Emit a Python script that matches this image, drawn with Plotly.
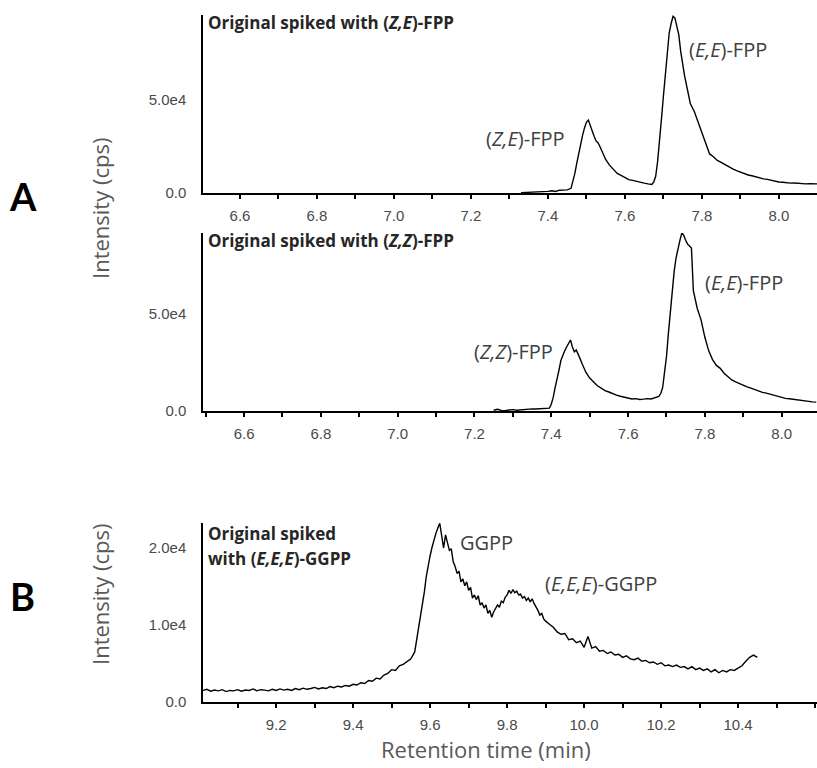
import plotly.graph_objects as go

W, H = 817, 768

# ---------------- data ----------------
# Panel A1: original spiked with (Z,E)-FPP
a1_time = [7.33, 7.34, 7.35, 7.36, 7.37, 7.38, 7.39, 7.40, 7.41, 7.42, 7.43, 7.44, 7.45,
           7.46, 7.465, 7.47, 7.475, 7.48, 7.485, 7.49, 7.495, 7.50, 7.505, 7.51, 7.515,
           7.52, 7.525, 7.53, 7.535, 7.54, 7.55, 7.56, 7.57, 7.58, 7.59, 7.60, 7.61, 7.62,
           7.63, 7.64, 7.65, 7.66, 7.67, 7.675, 7.68, 7.685, 7.69, 7.695, 7.70, 7.705,
           7.71, 7.715, 7.72, 7.725, 7.73, 7.735, 7.74, 7.745, 7.75, 7.755, 7.76, 7.765,
           7.77, 7.78, 7.79, 7.80, 7.81, 7.82, 7.83, 7.84, 7.85, 7.86, 7.87, 7.88, 7.89,
           7.90, 7.91, 7.92, 7.93, 7.94, 7.95, 7.96, 7.97, 7.98, 7.99, 8.00, 8.01, 8.02,
           8.03, 8.04, 8.05, 8.06, 8.07, 8.08, 8.09, 8.10]
a1_int = [200, 300, 250, 500, 400, 700, 500, 900, 1200, 800, 1500, 1400, 1700,
          2500, 6000, 10500, 16000, 21500, 27000, 31000, 35000, 38000, 39200, 36000, 33500,
          30500, 28000, 27000, 25000, 22500, 18000, 15000, 12500, 10500, 9500, 8200, 7200, 6800,
          6200, 5600, 5300, 4900, 4600, 6000, 9000, 17000, 27000, 40000, 52000, 64000,
          75000, 86000, 91000, 95000, 94000, 90000, 85000, 76000, 68000, 63000, 58000, 52000,
          48000, 44000, 38000, 33000, 27000, 21000, 19500, 17500, 16500, 15200, 14000, 13000, 12000,
          11200, 10500, 9700, 9300, 8600, 8200, 7600, 7300, 6800, 6300, 5900, 5800, 5500,
          5300, 5400, 5100, 5200, 4900, 5000, 4800, 4900]

# Panel A2: original spiked with (Z,Z)-FPP
a2_time = [7.25, 7.26, 7.27, 7.28, 7.29, 7.30, 7.31, 7.32, 7.33, 7.34, 7.35, 7.36, 7.37,
           7.38, 7.39, 7.395, 7.40, 7.405, 7.41, 7.415, 7.42, 7.425, 7.43, 7.435, 7.44,
           7.445, 7.45, 7.455, 7.46, 7.465, 7.47, 7.475, 7.48, 7.49, 7.50, 7.51, 7.52,
           7.53, 7.54, 7.55, 7.56, 7.57, 7.58, 7.59, 7.60, 7.61, 7.62, 7.63, 7.64, 7.65,
           7.66, 7.67, 7.68, 7.685, 7.69, 7.695, 7.70, 7.705, 7.71, 7.715, 7.72, 7.725,
           7.73, 7.735, 7.74, 7.745, 7.75, 7.755, 7.76, 7.765, 7.77, 7.775, 7.78, 7.79,
           7.80, 7.81, 7.82, 7.83, 7.84, 7.85, 7.86, 7.87, 7.88, 7.89, 7.90, 7.91, 7.92,
           7.93, 7.94, 7.95, 7.96, 7.97, 7.98, 7.99, 8.00, 8.01, 8.02, 8.03, 8.04, 8.05,
           8.06, 8.07, 8.08, 8.09]
a2_int = [400, 900, 300, 200, 500, 700, 400, 600, 900, 1000, 1100, 1000, 1100,
          1000, 1100, 1500, 3500, 7000, 12000, 16000, 21000, 26000, 29000, 31000, 33000,
          34500, 36600, 33000, 30500, 31500, 29500, 27000, 24500, 20000, 17000, 14800, 13000,
          11800, 10500, 9800, 8800, 8200, 7600, 7200, 6600, 6200, 6400, 5900, 6100, 6400,
          6200, 6800, 7500, 9000, 12000, 20000, 28000, 40000, 52000, 64000, 72000, 79000,
          84000, 88000, 91800, 90500, 88000, 86000, 85000, 84000, 62000, 57000, 53000, 47000,
          38000, 31000, 26500, 23500, 22000, 19500, 17500, 16000, 15000, 14000, 13200, 12400, 11800,
          11000, 10200, 9600, 9200, 8700, 8000, 7400, 6900, 6500, 6300, 6000, 5800, 5400,
          5200, 5000, 4700, 4600]

# Panel B: original spiked with (E,E,E)-GGPP
b_time = [9.01, 9.02, 9.03, 9.04, 9.05, 9.06, 9.07, 9.08, 9.09, 9.10, 9.11, 9.12, 9.13,
          9.14, 9.15, 9.16, 9.17, 9.18, 9.19, 9.20, 9.21, 9.22, 9.23, 9.24, 9.25, 9.26,
          9.27, 9.28, 9.29, 9.30, 9.31, 9.32, 9.33, 9.34, 9.35, 9.36, 9.37, 9.38, 9.39,
          9.40, 9.41, 9.42, 9.43, 9.44, 9.45, 9.46, 9.47, 9.48, 9.49, 9.50, 9.51, 9.52,
          9.53, 9.54, 9.55, 9.56, 9.565, 9.57, 9.575, 9.58, 9.585, 9.59, 9.595, 9.60,
          9.605, 9.61, 9.615, 9.62, 9.625, 9.63, 9.635, 9.64, 9.645, 9.65, 9.655, 9.66,
          9.665, 9.67, 9.675, 9.68, 9.685, 9.69, 9.695, 9.70, 9.705, 9.71, 9.715, 9.72,
          9.725, 9.73, 9.735, 9.74, 9.745, 9.75, 9.755, 9.76, 9.765, 9.77, 9.775, 9.78,
          9.785, 9.79, 9.795, 9.80, 9.805, 9.81, 9.815, 9.82, 9.825, 9.83, 9.835, 9.84,
          9.845, 9.85, 9.855, 9.86, 9.865, 9.87, 9.875, 9.88, 9.885, 9.89, 9.895, 9.90,
          9.91, 9.92,
          9.93, 9.94, 9.95, 9.96, 9.97, 9.98, 9.99, 10.00, 10.01, 10.02, 10.03, 10.04,
          10.05, 10.06, 10.07, 10.08, 10.09, 10.10, 10.11, 10.12, 10.13, 10.14, 10.15,
          10.16, 10.17, 10.18, 10.19, 10.20, 10.21, 10.22, 10.23, 10.24, 10.25, 10.26,
          10.27, 10.28, 10.29, 10.30, 10.31, 10.32, 10.33, 10.34, 10.35, 10.36, 10.37,
          10.38, 10.39, 10.40, 10.41, 10.42, 10.43, 10.44, 10.45]
b_int = [1500, 1650, 1400, 1550, 1450, 1600, 1350, 1500, 1450, 1600, 1400, 1550, 1500,
         1700, 1450, 1600, 1550, 1450, 1650, 1500, 1700, 1550, 1650, 1500, 1750, 1600,
         1800, 1650, 1750, 1900, 1700, 1850, 1750, 2000, 1850, 2050, 1950, 2150, 2050,
         2300, 2200, 2500, 2400, 2800, 2700, 3100, 3000, 3500, 3700, 4200, 4100, 4700,
         4900, 5300, 5600, 6500, 8000, 9300, 10800, 12300, 14300, 16300, 17800, 19000,
         20100, 21200, 21900, 22600, 23200, 21600, 20000, 21700, 20500, 19700, 19900, 18200,
         17600, 16700, 17000, 15600, 16000, 15100, 15600, 14500, 14900, 13500, 13900, 13300,
         13800, 12600, 12900, 12200, 12600, 11500, 11900, 11000, 11700, 12100, 12600, 12300,
         13100, 12900, 13600, 13900, 14500, 14100, 14600, 14200, 14400, 13900, 14000, 13500,
         13700, 13200, 13500, 13000, 13400, 12800, 12400, 11900, 11300, 11500, 10800, 10500,
         10100, 9700,
         9100, 8800, 8900, 8100, 8200, 7700, 7900, 7100, 8500, 7000, 7200, 6600,
         6700, 6300, 6500, 6100, 6200, 5800, 6000, 5600, 5500, 5700, 5300,
         5400, 5100, 5200, 4900, 5100, 4700, 4800, 4600, 4800, 4500, 4600,
         4300, 4600, 4200, 4400, 4100, 4300, 3900, 4200, 3800, 4100, 3900,
         4200, 4100, 4400, 4700, 5300, 5800, 6100, 5800]

a_xticks = [6.6, 6.8, 7.0, 7.2, 7.4, 7.6, 7.8, 8.0]
a_yticks = [0, 50000]
a_ytext = ["0.0", "5.0e4"]
b_xticks = [9.2, 9.4, 9.6, 9.8, 10.0, 10.2, 10.4]
b_yticks = [0, 10000, 20000]
b_ytext = ["0.0", "1.0e4", "2.0e4"]

# ---------------- figure ----------------
def px(x):
    return x / W

def py(y):
    return 1 - y / H

TICKFONT = dict(family="Liberation Sans, Arial, sans-serif", size=15, color="#4a4a4a")
LBL = "Open Sans, sans-serif"

fig = go.Figure()
line = dict(color="black", width=1.4)
fig.add_trace(go.Scatter(x=a1_time, y=a1_int, mode="lines", line=line, xaxis="x", yaxis="y", showlegend=False))
fig.add_trace(go.Scatter(x=a2_time, y=a2_int, mode="lines", line=line, xaxis="x2", yaxis="y2", showlegend=False))
fig.add_trace(go.Scatter(x=b_time, y=b_int, mode="lines", line=line, xaxis="x3", yaxis="y3", showlegend=False))

def xax(rng, tickvals, anchor, tick0):
    return dict(range=rng, domain=[px(203), 1], anchor=anchor, tickvals=tickvals,
                ticktext=[f"{v:.1f}" for v in tickvals],
                ticks="outside", ticklen=4, tickwidth=1.5, tickcolor="black",
                minor=dict(dtick=0.1, tick0=tick0, ticks="outside", ticklen=4, tickwidth=1.5, tickcolor="black"),
                showline=True, linecolor="black", linewidth=1.5, showgrid=False, zeroline=False,
                tickfont=TICKFONT, ticklabelstandoff=4, fixedrange=True, automargin=False)

def yax(rng, dom, tickvals, ticktext, anchor):
    return dict(range=rng, domain=dom, anchor=anchor, tickvals=tickvals, ticktext=ticktext,
                ticks="", showline=True, linecolor="black", linewidth=1.5, showgrid=False,
                zeroline=False, tickfont=TICKFONT, ticklabelstandoff=12, fixedrange=True,
                automargin=False)

fig.update_layout(
    width=W, height=H, margin=dict(l=0, r=0, t=0, b=0, autoexpand=False),
    paper_bgcolor="white", plot_bgcolor="white",
    xaxis=xax([6.504, 8.099], a_xticks, "y", 6.5),
    yaxis=yax([0, 95700], [py(193), py(15)], a_yticks, a_ytext, "x"),
    xaxis2=xax([6.493, 8.092], a_xticks, "y2", 6.5),
    yaxis2=yax([0, 91760], [py(411), py(233)], a_yticks, a_ytext, "x2"),
    xaxis3=xax([9.010, 10.605], b_xticks, "y3", 9.0),
    yaxis3=yax([0, 23250], [py(702), py(523)], b_yticks, b_ytext, "x3"),
)

def ann(text, x, y, size, color="#404040", xanchor="center", textangle=0, family=LBL):
    fig.add_annotation(text=text, x=px(x), y=py(y), xref="paper", yref="paper",
                       xanchor=xanchor, yanchor="middle", showarrow=False, textangle=textangle,
                       font=dict(family=family, size=size, color=color))

TITLE_C = "#262626"
ann("<b>Original spiked with (<i>Z,E</i>)-FPP</b>", 206, 22, 17, TITLE_C, "left")
ann("<b>Original spiked with (<i>Z,Z</i>)-FPP</b>", 206, 240, 17, TITLE_C, "left")
ann("<b>Original spiked</b>", 206, 533, 17, TITLE_C, "left")
ann("<b>with (<i>E,E,E</i>)-GGPP</b>", 206, 558, 17, TITLE_C, "left")

ann("(<i>Z,E</i>)-FPP", 525, 138, 20)
ann("(<i>E,E</i>)-FPP", 728, 50, 20)
ann("(<i>Z,Z</i>)-FPP", 513, 352, 20)
ann("(<i>E,E</i>)-FPP", 744, 282, 20)
ann("GGPP", 486, 542, 20)
ann("(<i>E,E,E</i>)-GGPP", 601, 583, 20)

ann("<b>A</b>", 23, 196, 38, "black", family="Lato, sans-serif")
ann("<b>B</b>", 22, 596, 38, "black", family="Lato, sans-serif")

ann("Intensity (cps)", 100, 209, 22, "#595959", textangle=-90)
ann("Intensity (cps)", 100, 595, 22, "#595959", textangle=-90)
ann("Retention time (min)", 486, 749, 22, "#595959")

fig.write_html("out.html", config={"displayModeBar": False},
               post_script="document.body.style.margin='0px';document.body.style.overflow='hidden';")
